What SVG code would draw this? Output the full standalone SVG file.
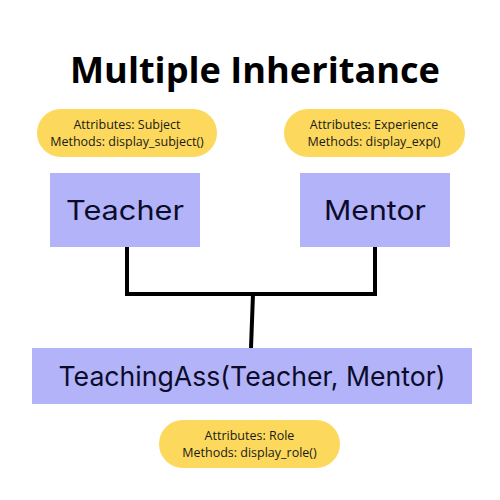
<svg xmlns="http://www.w3.org/2000/svg" width="500" height="500" viewBox="0 0 500 500">
<style>
.pill{fill:#fcd95c}
.box{fill:#b3b3f9}
.ptxt{font-family:"Open Sans","Liberation Sans",sans-serif;font-size:12.5px;fill:#1a1a1a;text-anchor:middle}
.btxt{font-family:"Inter","Noto Sans",sans-serif;font-size:27px;fill:#0c0c2a;text-anchor:middle}
.title{font-family:"Open Sans","Liberation Sans",sans-serif;font-weight:bold;font-size:36px;fill:#000;text-anchor:middle}
.conn{stroke:#000;stroke-width:4;fill:none;stroke-linejoin:miter}
</style>
<rect width="500" height="500" fill="#fff"/>
<text class="title" x="255" y="83" textLength="370" lengthAdjust="spacingAndGlyphs">Multiple Inheritance</text>
<g id="connectors">
<polyline class="conn" points="127,247 127,294 375,294 375,247"/>
<line class="conn" x1="253" y1="294" x2="251" y2="348"/>
</g>
<g id="teacher-attrs">
<rect class="pill" x="37" y="109" width="180" height="48" rx="24"/>
<text class="ptxt" x="127" y="129">Attributes: Subject</text>
<text class="ptxt" x="127" y="146">Methods: display_subject()</text>
</g>
<g id="mentor-attrs">
<rect class="pill" x="284" y="109" width="181" height="48" rx="24"/>
<text class="ptxt" x="374" y="129">Attributes: Experience</text>
<text class="ptxt" x="374" y="146">Methods: display_exp()</text>
</g>
<g id="teacher">
<rect class="box" x="50" y="173" width="150" height="74"/>
<text class="btxt" x="125" y="220" textLength="118" lengthAdjust="spacingAndGlyphs">Teacher</text>
</g>
<g id="mentor">
<rect class="box" x="300" y="173" width="150" height="74"/>
<text class="btxt" x="375" y="220" textLength="102" lengthAdjust="spacingAndGlyphs">Mentor</text>
</g>
<g id="teachingass">
<rect class="box" x="32" y="348" width="440" height="56"/>
<text class="btxt" x="252" y="386" textLength="387" lengthAdjust="spacingAndGlyphs">TeachingAss(Teacher, Mentor)</text>
</g>
<g id="teachingass-attrs">
<rect class="pill" x="159" y="420" width="181" height="48" rx="24"/>
<text class="ptxt" x="249.5" y="440">Attributes: Role</text>
<text class="ptxt" x="249.5" y="457">Methods: display_role()</text>
</g>
</svg>
